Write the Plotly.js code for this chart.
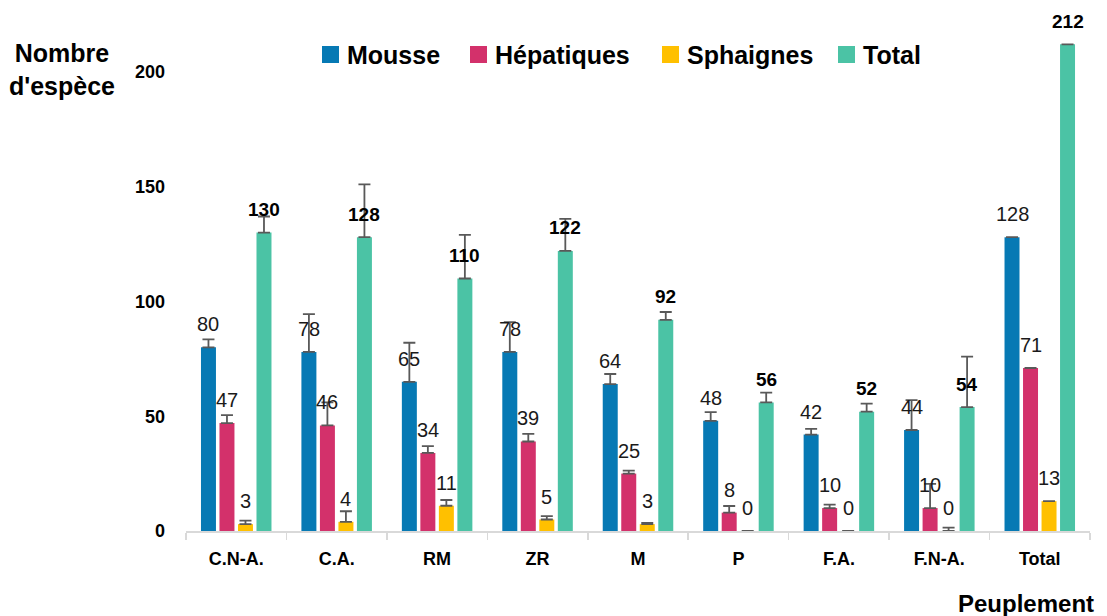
<!DOCTYPE html>
<html>
<head>
<meta charset="utf-8">
<script src="https://cdn.plot.ly/plotly-3.0.1.min.js"></script>
<style>
  html, body { margin: 0; padding: 0; background: #ffffff; }
  #chart { width: 1107px; height: 616px; }
</style>
</head>
<body>
<div id="chart"></div>
<script>
const categories = ['C.N-A.', 'C.A.', 'RM', 'ZR', 'M', 'P', 'F.A.', 'F.N-A.', 'Total'];
const seriesNames = ['Mousse', 'Hépatiques', 'Sphaignes', 'Total'];
const mousse     = [80, 78, 65, 78, 64, 48, 42, 44, 128];
const hepatiques = [47, 46, 34, 39, 25, 8, 10, 10, 71];
const sphaignes  = [3, 4, 11, 5, 3, 0, 0, 0, 13];
const total      = [130, 128, 110, 122, 92, 56, 52, 54, 212];
const errMousse     = [3.5, 16.5, 17, 13, 4.4, 3.8, 2.5, 13, 0];
const errHepatiques = [3.5, 10, 3, 3.3, 1.3, 2.9, 1.5, 10.5, 0];
const errSphaignes  = [1.5, 4.6, 2.5, 1.5, 0.5, NaN, NaN, 1.5, 0];
const errTotal      = [7, 23, 19, 14, 3.4, 4.3, 3.5, 22, 0];

const colors = ['#0679B4', '#D3316B', '#FFC000', '#4BC3A5'];
const values = [mousse, hepatiques, sphaignes, total];
const errors = [errMousse, errHepatiques, errSphaignes, errTotal];
const FONT = 'Liberation Sans, Arial, sans-serif';
const bargap = 0.263;
const slot = (1 - bargap) / 4;

// plot-area geometry (pixels) used to place the custom legend in paper coords
const PL = 186, PW = 904, PB = 531, PH = 505;
const px = v => (v - PL) / PW;
const py = v => (PB - v) / PH;

const traces = [];
values.forEach((vals, s) => {
  traces.push({
    type: 'bar',
    x: categories,
    y: vals,
    name: seriesNames[s],
    showlegend: false,
    marker: { color: colors[s] },
    error_y: {
      type: 'data',
      symmetric: false,
      array: errors[s],
      arrayminus: vals.map(() => 0),
      color: '#595959',
      thickness: 1.8,
      width: 6
    },
    hoverinfo: 'x+y+name'
  });
});

const annotations = [];
values.forEach((vals, s) => {
  vals.forEach((v, i) => {
    annotations.push({
      x: i + (s - 1.5) * slot, y: v, xref: 'x', yref: 'y',
      text: String(v), showarrow: false, yshift: 23, yanchor: 'middle', xanchor: 'center',
      font: s === 3 ? { family: FONT, size: 19, color: '#000', weight: 'bold' }
                    : { family: FONT, size: 20, color: '#1a1a1a' }
    });
  });
});
annotations.push({
  xref: 'paper', yref: 'paper', x: -0.137, y: 0.913, xanchor: 'center', yanchor: 'middle',
  text: 'Nombre<br>d\'espèce', showarrow: false, align: 'center',
  font: { family: FONT, size: 25, color: '#000', weight: 'bold' }
});
annotations.push({
  xref: 'paper', yref: 'paper', x: 1.007, y: -0.1426, xanchor: 'right', yanchor: 'middle',
  text: 'Peuplement', showarrow: false,
  font: { family: FONT, size: 24, color: '#000', weight: 'bold' }
});

// custom legend
const legendSquareX = [322, 470, 662, 838];
const shapes = [];
seriesNames.forEach((n, s) => {
  const x0 = legendSquareX[s];
  shapes.push({
    type: 'rect', xref: 'paper', yref: 'paper',
    x0: px(x0), x1: px(x0 + 17), y0: py(63), y1: py(46),
    fillcolor: colors[s], line: { width: 0 }
  });
  annotations.push({
    xref: 'paper', yref: 'paper', x: px(x0 + 23), y: py(54.5), xanchor: 'left', yanchor: 'middle',
    text: n, showarrow: false,
    font: { family: FONT, size: 25, color: '#000', weight: 'bold' }
  });
});

const layout = {
  width: 1107, height: 616,
  margin: { l: 186, r: 17, t: 26, b: 85 },
  paper_bgcolor: '#ffffff', plot_bgcolor: '#ffffff',
  barmode: 'group', bargap: bargap, bargroupgap: 0.19,
  font: { family: FONT, color: '#000' },
  showlegend: false,
  xaxis: {
    type: 'category',
    showline: true, linecolor: '#D9D9D9', linewidth: 1.5,
    ticks: 'outside', tickson: 'boundaries', ticklen: 7, tickcolor: '#D9D9D9', tickwidth: 1.5,
    tickfont: { family: FONT, size: 18, color: '#000', weight: 'bold' },
    ticklabelstandoff: 11,
    showgrid: false, zeroline: false, fixedrange: true
  },
  yaxis: {
    range: [0, 220], tickvals: [0, 50, 100, 150, 200], ticktext: ['0', '50', '100', '150', '200'],
    showgrid: false, zeroline: false, showline: false, ticks: '',
    tickfont: { family: FONT, size: 18, color: '#000', weight: 'bold' },
    ticklabelstandoff: 20, fixedrange: true
  },
  shapes: shapes,
  annotations: annotations
};

Plotly.newPlot('chart', traces, layout, { displayModeBar: false, staticPlot: true });
</script>
</body>
</html>
